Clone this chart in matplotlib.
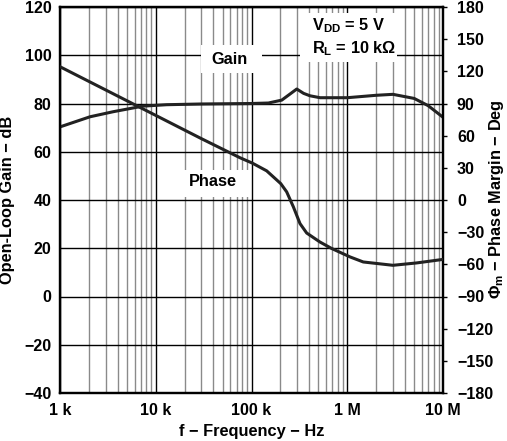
import numpy as np
import matplotlib
matplotlib.use("Agg")
import matplotlib.pyplot as plt
from matplotlib.ticker import FixedLocator, NullFormatter
from matplotlib.patches import Rectangle

plt.rcParams['font.family'] = ['Liberation Sans', 'DejaVu Sans']
plt.rcParams['font.weight'] = 'bold'
plt.rcParams['mathtext.fontset'] = 'custom'
plt.rcParams['mathtext.rm'] = 'Liberation Sans:bold'
plt.rcParams['mathtext.it'] = 'Liberation Sans:bold'
plt.rcParams['mathtext.bf'] = 'Liberation Sans:bold'

# Data
gain_freq = [1e3, 2.06e3, 3.6e3, 7.3e3, 1.3e4, 3e4, 1e5, 1.5e5, 2.07e5, 2.5e5, 2.97e5,
             3.5e5, 4.08e5, 5.2e5, 1e6, 2e6, 3e6, 5e6, 7e6, 1e7]
gain_db = [70.3, 74.5, 76.6, 78.9, 79.5, 79.8, 80.0, 80.2, 81.4, 83.8, 86.0,
           84.2, 83.2, 82.4, 82.4, 83.4, 83.8, 82.1, 79.1, 74.3]

phase_freq = [1e3, 1e4, 3e4, 7.59e4, 1.02e5, 1.44e5, 2.02e5, 2.33e5, 2.74e5,
              3.21e5, 3.77e5, 5.19e5, 6.87e5, 1.07e6, 1.47e6, 3.0e6, 5.3e6, 1e7]
phase_deg = [124.3, 78.9, 57.2, 39.4, 34.4, 27.2, 15.3, 7.6, -6.5,
             -22.0, -30.8, -39.2, -45.2, -53.1, -57.8, -60.9, -58.7, -55.4]

x_ticks = [1e3, 1e4, 1e5, 1e6, 1e7]
x_labels = ['1 k', '10 k', '100 k', '1 M', '10 M']
gain_ticks = list(range(-40, 121, 20))
phase_ticks = list(range(-180, 181, 30))

W, H = 507, 441
fig = plt.figure(figsize=(W/100, H/100), dpi=100)
ax = fig.add_axes([60/W, 1-393/H, 383/W, 386/H])
ax2 = ax.twinx()

ax.set_xscale('log')
ax.set_xlim(1e3, 1e7)
ax.set_ylim(-40, 120)
ax2.set_ylim(-180, 180)

# grid
minor = [m * 10**e for e in range(3, 7) for m in range(2, 10)]
for f in minor:
    ax.axvline(f, color='#8a8a8a', lw=1.0, zorder=1)
for f in x_ticks:
    ax.axvline(f, color='black', lw=1.0, zorder=1)
for g in gain_ticks:
    ax.axhline(g, color='black', lw=1.0, zorder=1)

ax.plot(gain_freq, gain_db, color='#222222', lw=2.2, zorder=4, solid_joinstyle='round')
ax2.plot(phase_freq, phase_deg, color='#222222', lw=2.2, zorder=4, solid_joinstyle='round')

ax.xaxis.set_major_locator(FixedLocator(x_ticks))
ax.set_xticklabels(x_labels)
ax.xaxis.set_minor_formatter(NullFormatter())
ax.tick_params(axis='x', which='both', length=0, pad=7, labelsize=11.5)
ax.set_yticks(gain_ticks)
ax.set_yticklabels([str(t).replace('-', '\u2212') for t in gain_ticks])
ax.tick_params(axis='y', length=0, pad=6, labelsize=11.5)
ax2.set_yticks(phase_ticks)
ax2.set_yticklabels([str(t).replace('-', '\u2212') for t in phase_ticks])
ax2.tick_params(axis='y', length=3, width=1, direction='out', pad=7, labelsize=11.5)

for a in (ax, ax2):
    for s in a.spines.values():
        s.set_linewidth(1.6)
        s.set_color('black')

fig.text(251.5/W, 1-431.5/H, 'f \u2212 Frequency \u2212 Hz', ha='center', va='center',
         fontsize=11.8, fontweight='bold')
fig.text(8/W, 1-200/H, 'Open-Loop Gain \u2212 dB', ha='center', va='center', rotation=90,
         fontsize=11.8, fontweight='bold')
fig.text(497/W, 1-199/H, '$\\Phi_\\mathrm{m}$ \u2212 Phase Margin \u2212 Deg', ha='center', va='center',
         rotation=90, fontsize=11.8, fontweight='bold')

# white label boxes
for (x0, y0, x1, y1) in [(201, 45, 262, 73), (180, 170, 250, 197), (300, 13, 397, 62)]:
    fig.patches.append(Rectangle((x0/W, 1-y1/H), (x1-x0)/W, (y1-y0)/H, transform=fig.transFigure,
                                 fc='white', ec='none', zorder=3))

fig.text(230/W, 1-59.5/H, 'Gain', ha='center', va='center', fontsize=11.8, fontweight='bold', zorder=6)
fig.text(213/W, 1-181.5/H, 'Phase', ha='center', va='center', fontsize=11.8, fontweight='bold', zorder=6)
fig.text(312/W, 1-37.5/H, 'V$_\\mathrm{DD}$ = 5 V\nR$_\\mathrm{L}$ = 10 k\u03a9',
         ha='left', va='center', fontsize=11.8, fontweight='bold', linespacing=1.3, zorder=6)

fig.savefig('out.png', dpi=100)
